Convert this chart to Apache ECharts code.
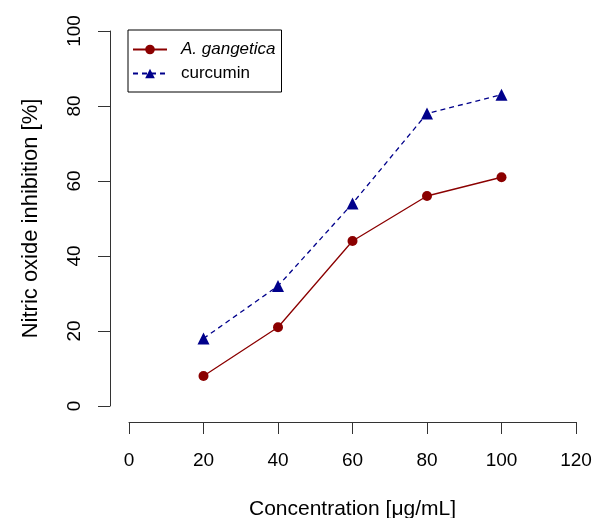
<!DOCTYPE html>
<html>
<head>
<meta charset="utf-8">
<script src="https://cdn.jsdelivr.net/npm/echarts@6/dist/echarts.min.js"></script>
<style>
  body { margin: 0; background: #fff; }
  #chart { width: 596px; height: 518px; }
</style>
</head>
<body>
<div id="chart"></div>
<script>
let concentration = [20, 40, 60, 80, 100];
let gangetica = [8, 21, 44, 56, 61];
let curcumin = [18, 32, 54, 78, 83];
let xTicks = [0, 20, 40, 60, 80, 100, 120];
let yTicks = [0, 20, 40, 60, 80, 100];

function pairs(xs, ys) {
    let out = [];
    for (i = 0; i < xs.length; ++i) {
        out.push([xs[i], ys[i]]);
    }
    return out;
}

let NOChart = echarts.init(document.getElementById('chart'));

let font = 'Liberation Sans, Arial, sans-serif';

let no_chart = {
    backgroundColor: '#fff',
    animation: false,
    grid: {
        left: 129,
        right: 20,
        top: 31,
        bottom: 112,
        containLabel: false,
        outerBoundsMode: 'none'
    },
    legend: {
        show: true,
        left: 128,
        top: 30,
        orient: 'vertical',
        borderColor: '#000',
        borderWidth: 1,
        borderRadius: 0,
        padding: [11, 6, 10, 4],
        itemWidth: 34,
        itemHeight: 12,
        itemGap: 7,
        data: ['A. gangetica', 'curcumin'],
        textStyle: {
            fontFamily: font,
            fontSize: 17,
            color: '#000',
            padding: [0, 0, 0, 9],
            rich: {
                it: { fontFamily: font, fontSize: 17, fontStyle: 'italic', color: '#000' }
            }
        },
        formatter: function (name) {
            return name == 'A. gangetica' ? '{it|' + name + '}' : name;
        }
    },
    xAxis: {
        type: 'value',
        min: 0,
        max: 120,
        interval: 20,
        offset: 16,
        name: 'Concentration [\u03bcg/mL]',
        nameLocation: 'middle',
        nameGap: 77,
        nameMoveOverlap: false,
        nameTextStyle: { fontFamily: font, fontSize: 21, color: '#000' },
        axisLine: { show: true, onZero: false, lineStyle: { color: '#333', width: 1 } },
        axisTick: { show: true, length: 12, lineStyle: { color: '#333' } },
        axisLabel: {
            fontFamily: font, fontSize: 19, color: '#000', margin: 29,
            showMinLabel: true, showMaxLabel: true
        },
        splitLine: { show: false }
    },
    yAxis: {
        type: 'value',
        min: 0,
        max: 100,
        interval: 20,
        offset: 19,
        name: 'Nitric oxide inhibition [%]',
        nameLocation: 'middle',
        nameGap: 68,
        nameMoveOverlap: false,
        nameRotate: 90,
        nameTextStyle: { fontFamily: font, fontSize: 22, color: '#000' },
        axisLine: { show: true, onZero: false, lineStyle: { color: '#333', width: 1 } },
        axisTick: { show: true, length: 12, lineStyle: { color: '#333' } },
        axisLabel: {
            fontFamily: font, fontSize: 19, color: '#000', margin: 26,
            rotate: 90, showMinLabel: true, showMaxLabel: true
        },
        splitLine: { show: false }
    },
    series: [
        {
            name: 'A. gangetica',
            type: 'line',
            data: pairs(concentration, gangetica),
            symbol: 'circle',
            symbolSize: 10,
            itemStyle: { color: '#8b0000' },
            lineStyle: { color: '#8b0000', width: 1.3, type: 'solid' }
        },
        {
            name: 'curcumin',
            type: 'line',
            data: pairs(concentration, curcumin),
            symbol: 'triangle',
            symbolSize: 12,
            itemStyle: { color: '#00008b' },
            lineStyle: { color: '#00008b', width: 1.3, type: [5, 4] }
        }
    ]
};

NOChart.setOption(no_chart);
</script>
</body>
</html>
